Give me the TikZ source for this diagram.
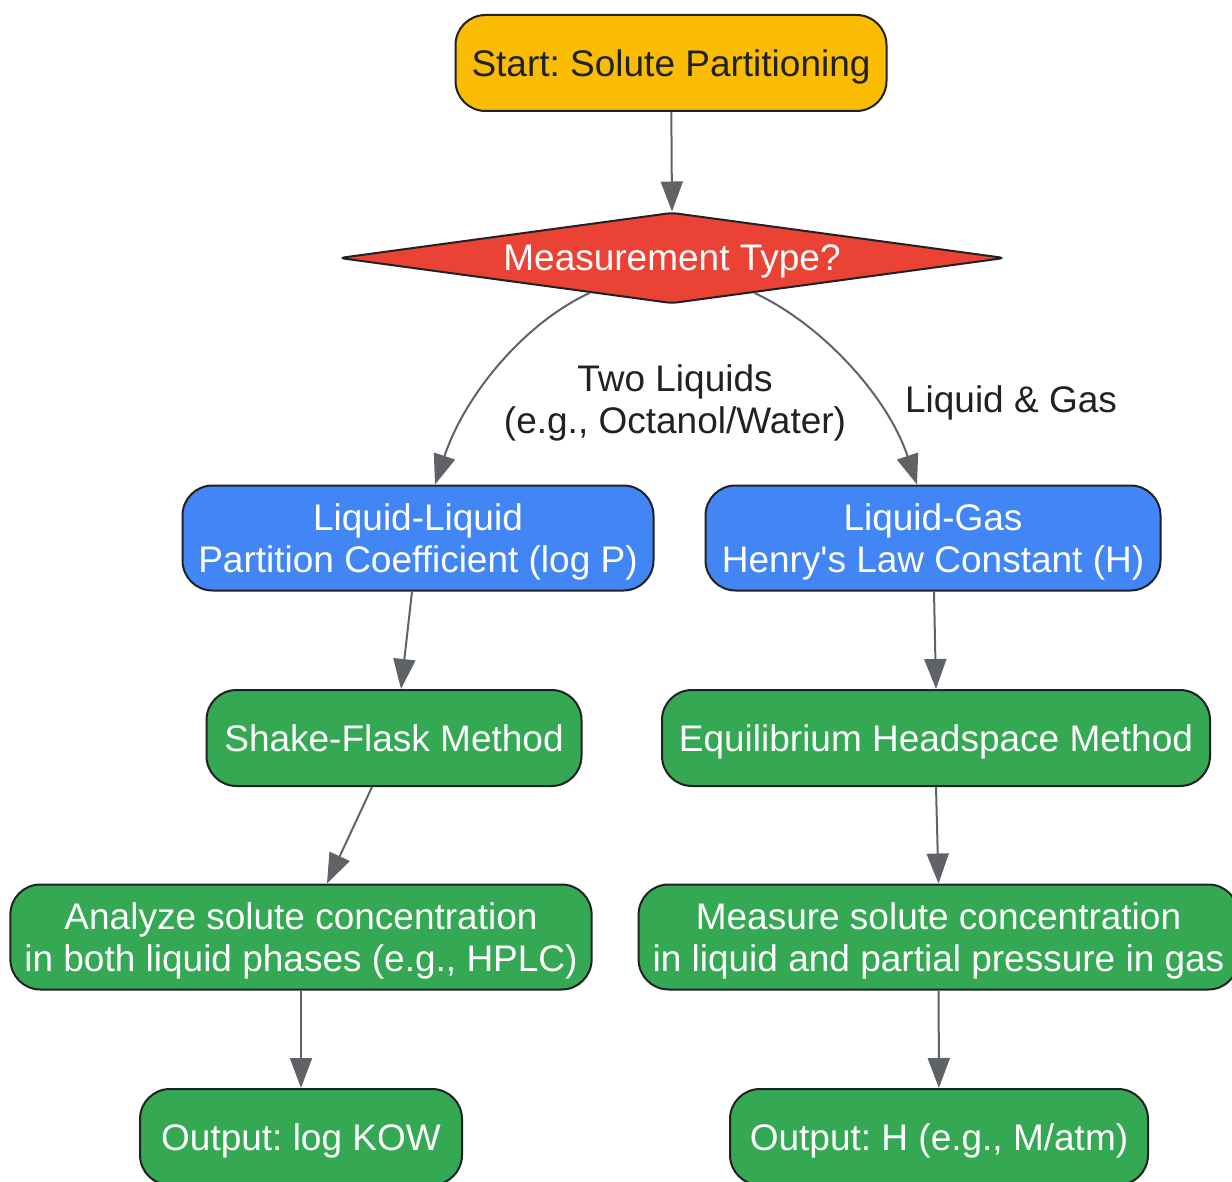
\documentclass[tikz,border=0pt]{standalone}
\usepackage{fontspec}
\setmainfont{Liberation Sans}
\usetikzlibrary{shapes.geometric,arrows.meta}
\frenchspacing

\definecolor{startfill}{HTML}{FBBC04}
\definecolor{askfill}{HTML}{EA4335}
\definecolor{typefill}{HTML}{4285F4}
\definecolor{stepfill}{HTML}{34A853}
\definecolor{rim}{HTML}{202124}
\definecolor{wire}{HTML}{5F6368}

\tikzset{
  box/.style={draw=rim, line width=2pt, rounded corners=30pt, align=center,
    inner xsep=14pt, inner ysep=0pt, text depth=-6pt, text=white,
    font=\fontsize{37}{42}\selectfont},
  startbox/.style={box, fill=startfill, text=rim, minimum height=96pt},
  askbox/.style={diamond, aspect=7.32, draw=rim, line width=2pt, fill=askfill, text=white,
    rounded corners=6pt, inner sep=0pt, minimum width=666pt, minimum height=91pt,
    text depth=-4pt, font=\fontsize{37}{42}\selectfont},
  typebox/.style={box, fill=typefill, minimum height=105pt},
  stepbox/.style={box, fill=stepfill, minimum height=96pt},
  twobox/.style={box, fill=stepfill, minimum height=105pt},
  lbl/.style={align=center, text=rim, font=\fontsize{37}{42}\selectfont},
  arr/.style={draw=wire, line width=2pt, -{Triangle[length=30pt,width=22pt]}}
}

\begin{document}
\begin{tikzpicture}[x=1pt, y=-1pt]
    \useasboundingbox (0,0) rectangle (1232,1182);

    \node[startbox, minimum width=431pt] (start) at (671, 63) {Start: Solute Partitioning};
    \node[askbox] (ask) at (672, 258) {Measurement Type?};

    \node[typebox, minimum width=471pt] (ll) at (418, 538) {Liquid-Liquid\\Partition Coefficient (log P)};
    \node[typebox, minimum width=455pt] (lg) at (933, 538) {Liquid-Gas\\Henry\textquotesingle s Law Constant (H)};

    \node[stepbox, minimum width=375pt] (shake) at (394, 738) {Shake-Flask Method};
    \node[stepbox, minimum width=548pt] (head) at (936, 738) {Equilibrium Headspace Method};

    \node[twobox, minimum width=581pt] (analyze) at (301, 937) {Analyze solute concentration\\in both liquid phases (e.g., HPLC)};
    \node[twobox, minimum width=599pt] (measure) at (938.5, 937) {Measure solute concentration\\in liquid and partial pressure in gas};

    \node[stepbox, minimum width=322pt] (outp) at (301, 1137) {Output: log KOW};
    \node[stepbox, minimum width=418pt] (outh) at (939, 1137) {Output: H (e.g., M/atm)};

    % edge labels
    \node[lbl] (twoliq) at (675, 403) {Two Liquids\\(e.g., Octanol/Water)};
    \node[lbl] (liqgas) at (1011, 403) {Liquid \& Gas};

    \draw[arr] (start) -- (ask.north);
    \draw[arr] (ask.203) .. controls +(-65,30) and +(30,-90) .. ([xshift=17pt]ll.north);
    \draw[arr] (ask.337.6) .. controls +(65,30) and +(-30,-90) .. ([xshift=-16pt]lg.north);

    \draw[arr] ([xshift=-6pt]ll.south) -- ([xshift=7pt]shake.north);
    \draw[arr] ([xshift=1pt]lg.south) -- (head.north);
    \draw[arr] ([xshift=-22pt]shake.south) -- ([xshift=26pt]analyze.north);
    \draw[arr] (head.south) -- (measure.north);
    \draw[arr] (analyze) -- (outp);
    \draw[arr] (measure) -- (outh);
\end{tikzpicture}
\end{document}
